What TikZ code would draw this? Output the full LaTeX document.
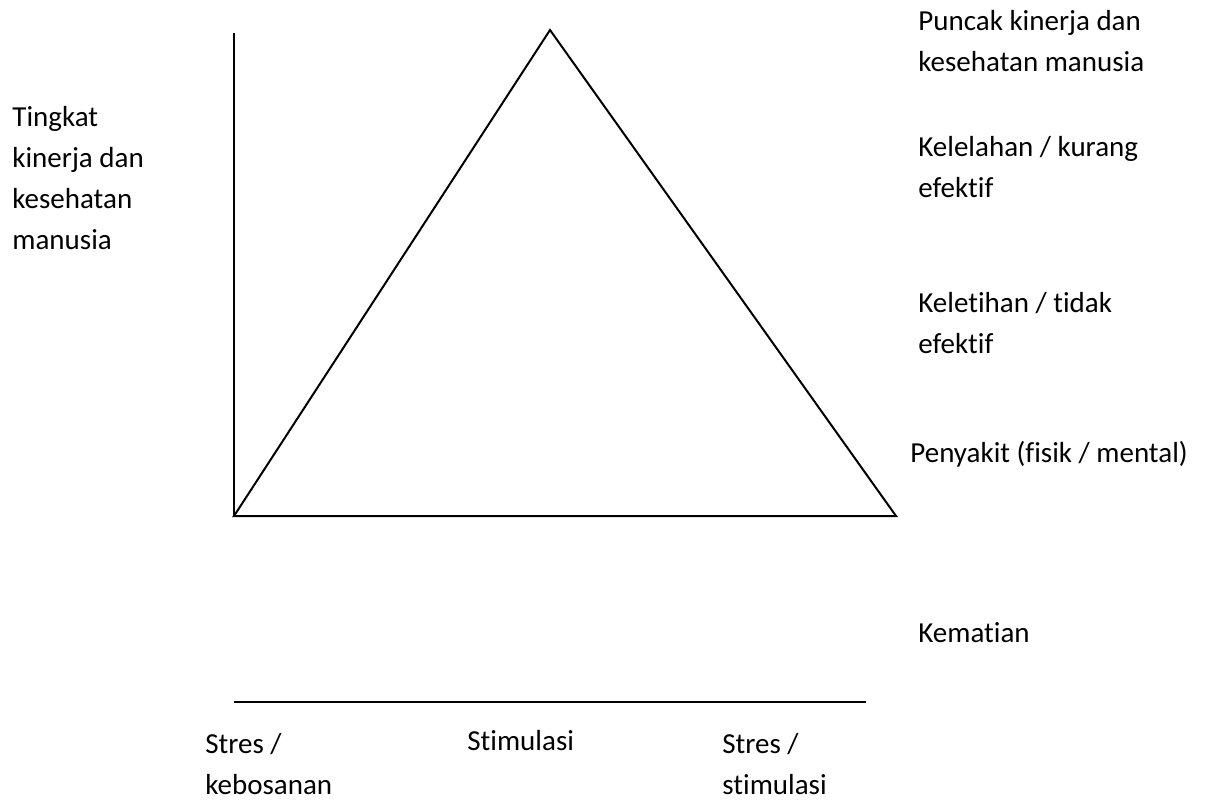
\documentclass[tikz,border=0pt]{standalone}
\usepackage{fontspec}
\setmainfont[Ligatures=NoCommon]{Carlito}
\begin{document}
\begin{tikzpicture}[
    x=0.5pt, y=-0.5pt,
    axis/.style={line width=1pt, line join=miter},
    txt/.style={anchor=base west, inner sep=0pt, align=left,
                font=\fontsize{14.5}{20.5}\selectfont}
]
\useasboundingbox (0,0) rectangle (1209,799);

% Titik-titik segitiga dan sumbu
\coordinate (O) at (234,516);
\coordinate (Atas) at (234,33);
\coordinate (Puncak) at (550,30);
\coordinate (Kanan) at (896,516);
\coordinate (BawahKiri) at (234,702);
\coordinate (BawahKanan) at (866,702);

% Sumbu tegak dan segitiga
\draw[axis] (Atas) -- (O);
\draw[axis] (O) -- (Puncak) -- (Kanan) -- cycle;
% Garis bawah
\draw[axis] (BawahKiri) -- (BawahKanan);

% Label sumbu tegak (posisi = garis dasar baris terakhir)
\node[txt] (tingkat) at (12,249) {Tingkat\\kinerja dan\\kesehatan\\manusia};

% Label tingkatan di kanan
\node[txt] (puncak) at (918,71) {Puncak kinerja dan\\kesehatan manusia};
\node[txt] (lelah) at (918,197) {Kelelahan / kurang\\efektif};
\node[txt] (letih) at (918,353) {Keletihan / tidak\\efektif};
\node[txt] (sakit) at (910,462) {Penyakit (fisik / mental)};
\node[txt] (mati) at (918,642) {Kematian};

% Label di bawah
\node[txt] (bosan) at (205,794) {Stres /\\kebosanan};
\node[txt] (stimulasi) at (467,750) {Stimulasi};
\node[txt] (stres) at (722,794) {Stres /\\stimulasi};
\end{tikzpicture}
\end{document}
